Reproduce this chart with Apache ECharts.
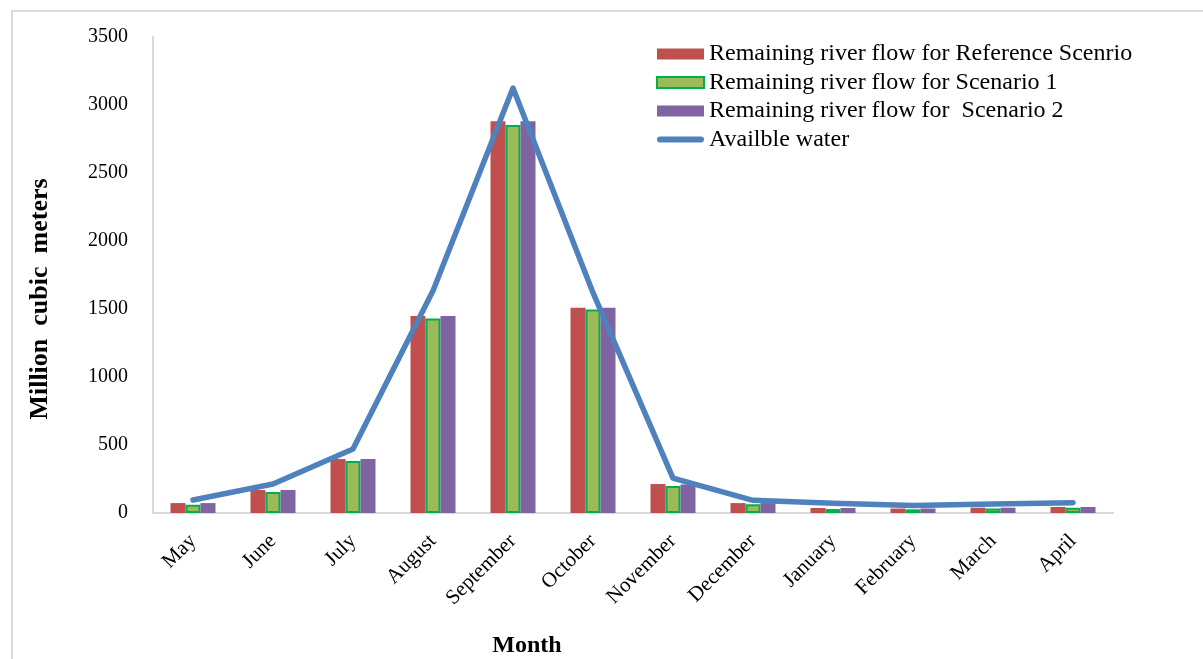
<!DOCTYPE html>
<html>
<head>
<meta charset="utf-8">
<script src="https://cdn.jsdelivr.net/npm/echarts@6/dist/echarts.min.js"></script>
<style>
  html, body { margin: 0; padding: 0; background: #fff; }
  #chart { width: 1203px; height: 659px; }
</style>
</head>
<body>
<div id="chart"></div>
<script>
// Monthly river flow (million cubic meters)
const months = ['May', 'June', 'July', 'August', 'September', 'October',
  'November', 'December', 'January', 'February', 'March', 'April'];
const referenceFlow = [73, 169, 397, 1449, 2880, 1510, 213, 73, 37, 33, 39, 44];
const scenario1Flow = [60, 155, 382, 1430, 2853, 1497, 199, 64, 29, 27, 33, 39];
const scenario2Flow = [73, 169, 397, 1449, 2880, 1510, 210, 73, 37, 33, 39, 44];
const availableWater = [96, 213, 470, 1635, 3125, 1620, 257, 93, 71, 56, 66, 76];
const yTicks = { min: 0, max: 3500, interval: 500 };

const serif = '"Liberation Serif", "DejaVu Serif", serif';
// capsule-shaped legend mark for the line series
const lineIcon = 'path://M3,0 L44,0 A3,3 0 0 1 44,6 L3,6 A3,3 0 0 1 3,0 Z';

const chart = echarts.init(document.getElementById('chart'));

chart.setOption({
  backgroundColor: '#ffffff',
  animation: false,
  graphic: [{
    type: 'rect',
    shape: { x: 12, y: 11, width: 1200, height: 660 },
    style: { fill: 'none', stroke: '#d9d9d9', lineWidth: 2 },
    silent: true
  }],
  grid: {
    left: 153, right: 90, top: 37, bottom: 146,
    containLabel: false,
    outerBoundsMode: 'none'
  },
  legend: {
    orient: 'vertical',
    left: 656,
    top: 42,
    padding: 0,
    itemWidth: 47,
    itemHeight: 11,
    itemGap: 4.5,
    icon: 'rect',
    textStyle: { fontFamily: serif, fontSize: 24, color: '#000' },
    data: [
      { name: 'Remaining river flow for Reference Scenrio', icon: 'rect' },
      { name: 'Remaining river flow for Scenario 1', icon: 'rect' },
      { name: 'Remaining river flow for  Scenario 2', icon: 'rect' },
      { name: 'Availble water', icon: lineIcon }
    ]
  },
  xAxis: {
    type: 'category',
    data: months,
    name: 'Month',
    nameLocation: 'middle',
    nameGap: 121,
    nameTextStyle: {
      fontFamily: serif, fontSize: 24, fontWeight: 'bold', color: '#000',
      padding: [0, 212, 0, 0]
    },
    axisLine: { lineStyle: { color: '#d9d9d9', width: 2 } },
    axisTick: { show: false },
    axisLabel: {
      interval: 0,
      rotate: 45,
      margin: 25,
      fontFamily: serif,
      fontSize: 21,
      color: '#000'
    }
  },
  yAxis: {
    type: 'value',
    min: yTicks.min,
    max: yTicks.max,
    interval: yTicks.interval,
    name: 'Million  cubic  meters',
    nameLocation: 'middle',
    nameGap: 100,
    nameTextStyle: {
      fontFamily: serif, fontSize: 26, fontWeight: 'bold', color: '#000',
      padding: [0, 48, 0, 0]
    },
    axisLine: { show: true, lineStyle: { color: '#d9d9d9', width: 2 } },
    axisTick: { show: false },
    splitLine: { show: false },
    axisLabel: {
      margin: 25, fontFamily: serif, fontSize: 20, color: '#000',
      formatter: (v) => String(v)
    }
  },
  series: [
    {
      name: 'Remaining river flow for Reference Scenrio',
      type: 'bar',
      data: referenceFlow,
      barWidth: 15,
      barGap: '0%',
      itemStyle: { color: '#C0504D' }
    },
    {
      name: 'Remaining river flow for Scenario 1',
      type: 'bar',
      data: scenario1Flow,
      barWidth: 15,
      barGap: '0%',
      itemStyle: { color: '#9BBB59', borderColor: '#00B050', borderWidth: 2 }
    },
    {
      name: 'Remaining river flow for  Scenario 2',
      type: 'bar',
      data: scenario2Flow,
      barWidth: 15,
      barGap: '0%',
      itemStyle: { color: '#8064A2' }
    },
    {
      name: 'Availble water',
      type: 'line',
      data: availableWater,
      showSymbol: false,
      symbol: 'none',
      z: 5,
      lineStyle: { color: '#4F81BD', width: 5.5, cap: 'round', join: 'round' },
      itemStyle: { color: '#4F81BD' }
    }
  ]
});
</script>
</body>
</html>
